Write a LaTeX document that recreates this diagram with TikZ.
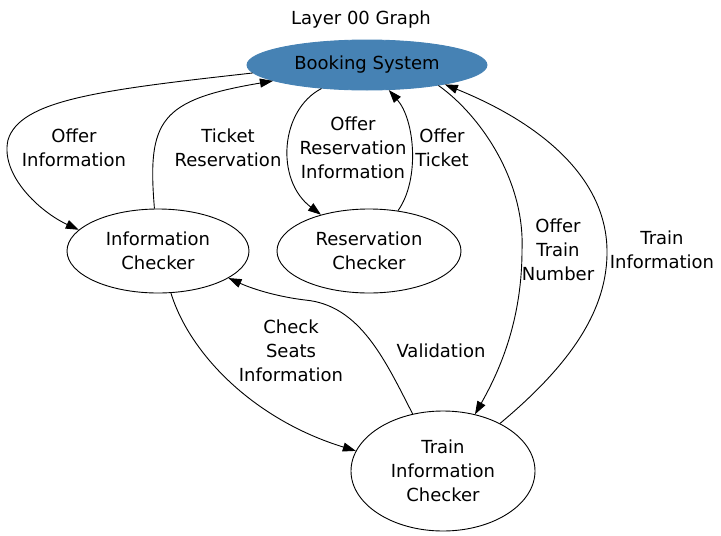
\documentclass[tikz,border=0pt]{standalone}
\usepackage{fontspec}
\setmainfont{DejaVu Sans}
\usetikzlibrary{shapes.geometric,arrows.meta}
\begin{document}
\begin{tikzpicture}[x=1pt,y=-1pt,
    every node/.style={font=\fontsize{18}{24}\selectfont, align=center},
    mystate/.style={ellipse, draw, line width=0.9pt, inner sep=0pt},
    myedge/.style={line width=0.9pt, -{Triangle[length=13pt,width=9pt]}}]
    \definecolor{mybook}{RGB}{70,130,180}
    \useasboundingbox (0,0) rectangle (721,536);

    \node (title) at (361,20) {Layer 00 Graph};
    \node[mystate, draw=mybook, fill=mybook, minimum width=240, minimum height=50] (bs) at (367,65) {Booking System};
    \node[mystate, minimum width=182, minimum height=84] (ic) at (158,251) {Information\\Checker};
    \node[mystate, minimum width=184, minimum height=84] (rc) at (369,251) {Reservation\\Checker};
    \node[mystate, minimum width=184, minimum height=120] (tic) at (443,471) {Train\\Information\\Checker};

    \draw[myedge] (bs.184) .. controls (100,90) and (20,100) .. (8,140) .. controls (0,175) and (40,212) .. (ic.165);
    \draw[myedge] (ic) .. controls (147,120) and (160,100) .. (bs);
    \draw[myedge] (bs) .. controls (280,110) and (275,180) .. (rc);
    \draw[myedge] (rc) .. controls (420,180) and (415,120) .. (bs);
    \draw[myedge] (bs.-16) .. controls (480,115) and (525,180) .. (522,250) .. controls (522,320) and (500,370) .. (tic);
    \draw[myedge] (tic) .. controls (570,365) and (608,310) .. (607,250) .. controls (606,180) and (545,125) .. (bs.-14);
    \draw[myedge] (ic) .. controls (190,355) and (255,420) .. (tic.167);
    \draw[myedge] (tic.118) .. controls (385,360) and (360,305) .. (305,300) .. controls (280,297) and (255,290) .. (ic.-21);

    \node (lofferinfo) at (74,148) {Offer\\Information};
    \node (lticket) at (228,148) {Ticket\\Reservation};
    \node (lofferres) at (353,148) {Offer\\Reservation\\Information};
    \node (lofferticket) at (442,148) {Offer\\Ticket};
    \node (ltrainnum) at (558,250) {Offer\\Train\\Number};
    \node (ltraininfo) at (662,250) {Train\\Information};
    \node (lseats) at (291,351) {Check\\Seats\\Information};
    \node (lvalid) at (441,351) {Validation};
\end{tikzpicture}
\end{document}
